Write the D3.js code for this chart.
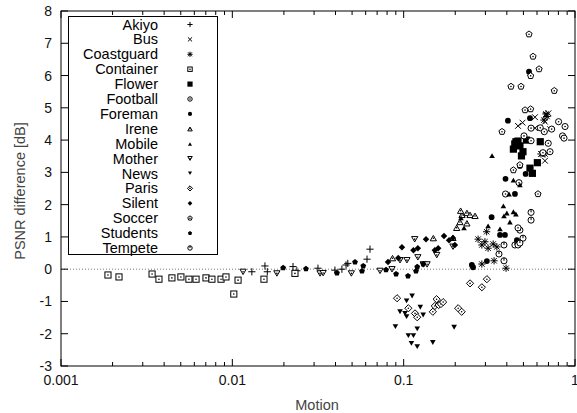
<!DOCTYPE html>
<html><head><meta charset="utf-8">
<script src="https://cdn.jsdelivr.net/npm/d3@7"></script>
<style>body{margin:0;background:#fff}svg{display:block}text{font-family:"Liberation Sans",Arial,sans-serif}</style>
</head><body><svg id="c" width="577" height="413"></svg>
<script>
const names = ["Akiyo","Bus","Coastguard","Container","Flower","Football","Foreman","Irene","Mobile","Mother","News","Paris","Silent","Soccer","Students","Tempete"];
const shapes = ["plus","cross","star","squareDot","squareFill","circleDot","circleFill","triUpDot","triUpFill","triDownDot","triDownFill","diamondDot","diamondFill","pentDot","pentFill","power"];
const xTicks = [0.001,0.01,0.1,1];
const yTicks = [-3,-2,-1,0,1,2,3,4,5,6,7,8];

const akiyo = [[0.0130,-0.08],[0.0155,0.10],[0.0160,-0.08],[0.0226,0.08],[0.0238,-0.05],[0.0316,0.03],[0.0397,-0.03],[0.0436,0.0],[0.0461,0.13],[0.0472,0.18],[0.0611,0.31],[0.0636,0.62]];
const bus = [[0.465,4.44],[0.494,4.54],[0.584,4.71],[0.668,4.57],[0.675,4.78],[0.70,4.83],[0.639,3.57],[0.668,3.36],[0.584,4.37],[0.715,4.34]];
const coastguard = [[0.286,0.16],[0.337,0.26],[0.396,0.03],[0.305,1.16],[0.272,0.93],[0.286,0.75],[0.298,0.85],[0.311,0.65],[0.333,0.78],[0.350,0.69],[0.687,4.73],[0.659,4.62],[0.668,3.57],[0.633,3.57],[0.677,4.81]];
const container = [[0.00188,-0.18],[0.00218,-0.24],[0.0034,-0.15],[0.00373,-0.31],[0.00444,-0.27],[0.00501,-0.24],[0.00558,-0.31],[0.00614,-0.31],[0.00702,-0.27],[0.0076,-0.31],[0.00859,-0.31],[0.00918,-0.24],[0.0102,-0.77],[0.0108,-0.34],[0.0153,-0.31],[0.0232,-0.13]];
const flower = [[0.452,3.95],[0.437,3.72],[0.477,3.82],[0.497,3.64],[0.487,3.51],[0.521,4.00],[0.627,3.95],[0.603,3.30],[0.546,3.13],[0.564,2.97],[0.465,3.97],[0.445,3.88]];
const football = [[0.554,4.37],[0.627,4.38],[0.662,4.26],[0.731,4.34],[0.802,4.57],[0.875,4.42],[0.846,4.13],[0.863,4.06],[0.698,3.90],[0.715,3.64],[0.65,3.61],[0.504,4.13],[0.554,3.98],[0.471,2.68],[0.393,2.33],[0.477,1.21],[0.465,1.28]];
const foreman = [[0.393,2.80],[0.477,3.20],[0.515,2.95],[0.446,2.33],[0.539,6.12],[0.406,4.60],[0.546,4.68],[0.326,1.61],[0.250,0.13],[0.254,0.06],[0.306,0.25],[0.39,1.06],[0.365,1.06],[0.458,0.90]];
const irene = [[0.0861,0.34],[0.149,0.96],[0.204,1.28],[0.213,1.46],[0.219,1.68],[0.234,1.74],[0.215,1.81],[0.244,1.68],[0.261,1.65],[0.234,1.42],[0.194,0.97]];
const mobile = [[0.216,1.59],[0.225,1.28],[0.328,3.52],[0.385,1.65],[0.40,1.74],[0.417,1.46],[0.437,1.78],[0.382,1.96],[0.437,2.76],[0.477,2.61],[0.412,2.33],[0.311,1.34],[0.365,1.25],[0.452,1.71]];
const mother = [[0.01155,-0.08],[0.0182,-0.13],[0.0325,-0.13],[0.0339,-0.12],[0.0495,-0.13],[0.0728,-0.05],[0.0855,0.0],[0.0952,0.28],[0.1045,0.28],[0.116,0.93],[0.121,0.37],[0.130,0.15],[0.137,0.15],[0.156,0.44],[0.194,0.70]];
const news = [[0.112,-0.83],[0.104,-0.98],[0.0952,-1.32],[0.1018,-1.37],[0.104,-1.47],[0.125,-1.18],[0.130,-1.42],[0.0895,-1.78],[0.120,-1.85],[0.1065,-2.06],[0.114,-2.06],[0.111,-2.30],[0.120,-2.40],[0.148,-2.27],[0.197,-1.80]];
const paris = [[0.0915,-0.90],[0.1065,-1.21],[0.1165,-1.37],[0.120,-1.49],[0.1557,-0.93],[0.152,-1.14],[0.148,-1.32],[0.16,-1.11],[0.165,-1.08],[0.17,-1.02],[0.208,-1.21],[0.218,-1.32],[0.244,-0.44],[0.286,-0.56],[0.306,-0.31]];
const silent = [[0.0977,0.68],[0.114,0.59],[0.121,0.65],[0.135,0.93],[0.152,0.59],[0.159,0.65],[0.172,1.03],[0.184,0.90],[0.194,0.97],[0.199,0.75],[0.081,0.22],[0.093,0.35]];
const soccer = [[0.539,7.28],[0.569,6.59],[0.617,6.20],[0.423,5.66],[0.484,5.66],[0.757,5.53],[0.551,5.99],[0.511,4.93],[0.551,4.96],[0.375,4.26],[0.608,2.33],[0.437,3.07],[0.477,3.23]];
const students = [[0.0198,0.04],[0.0269,0.01],[0.0408,-0.12],[0.052,0.22],[0.0571,-0.06],[0.0581,0.10],[0.0789,-0.02],[0.0903,-0.15],[0.106,-0.21],[0.118,-0.06],[0.120,0.07],[0.130,0.16]];
const tempete = [[0.385,0.26],[0.360,0.47],[0.385,0.75],[0.446,0.75],[0.497,0.96],[0.554,1.76],[0.554,1.52],[0.465,0.75],[0.477,0.81]];

const seriesData = [akiyo,bus,coastguard,container,flower,football,foreman,irene,mobile,mother,news,paris,silent,soccer,students,tempete];

const W=577,H=413, L=61, R=575, T=11, B=366;
const svg = d3.select("#c");
const x = d3.scaleLog().domain([0.001,1]).range([L,R]);
const y = d3.scaleLinear().domain([-3,8]).range([B,T]);

function poly(n, r, rot){
  const p=[];
  for(let i=0;i<n;i++){const a=rot+2*Math.PI*i/n;p.push([r*Math.cos(a),r*Math.sin(a)]);}
  return "M"+p.map(q=>q[0].toFixed(2)+","+q[1].toFixed(2)).join("L")+"Z";
}
function drawSymbol(g, shape, s){
  const sw=1;
  const dot = ()=>g.append("circle").attr("r",0.8).attr("fill","#000");
  switch(shape){
    case "plus": g.append("path").attr("d",`M${-s},0H${s}M0,${-s}V${s}`).attr("stroke","#000").attr("stroke-width",sw); break;
    case "cross": {const c=s*0.8; g.append("path").attr("d",`M${-c},${-c}L${c},${c}M${-c},${c}L${c},${-c}`).attr("stroke","#000").attr("stroke-width",sw); break;}
    case "star": {const c=s*0.75; g.append("path").attr("d",`M${-s},0H${s}M0,${-s}V${s}M${-c},${-c}L${c},${c}M${-c},${c}L${c},${-c}`).attr("stroke","#000").attr("stroke-width",sw); break;}
    case "squareDot": {const c=s*0.85; g.append("rect").attr("x",-c).attr("y",-c).attr("width",2*c).attr("height",2*c).attr("fill","#fff").attr("stroke","#000").attr("stroke-width",sw); dot(); break;}
    case "squareFill": {const c=s; g.append("rect").attr("x",-c).attr("y",-c).attr("width",2*c).attr("height",2*c).attr("fill","#000"); break;}
    case "circleDot": g.append("circle").attr("r",s*0.85).attr("fill","#fff").attr("stroke","#000").attr("stroke-width",sw); dot(); break;
    case "circleFill": g.append("circle").attr("r",s*0.8).attr("fill","#000"); break;
    case "triUpDot": g.append("path").attr("d",poly(3,s,-Math.PI/2)).attr("transform","translate(0,0.8)").attr("fill","#fff").attr("stroke","#000").attr("stroke-width",sw); dot(); break;
    case "triUpFill": g.append("path").attr("d",poly(3,s*0.9,-Math.PI/2)).attr("transform","translate(0,0.8)").attr("fill","#000"); break;
    case "triDownDot": g.append("path").attr("d",poly(3,s,Math.PI/2)).attr("transform","translate(0,-0.8)").attr("fill","#fff").attr("stroke","#000").attr("stroke-width",sw); dot(); break;
    case "triDownFill": g.append("path").attr("d",poly(3,s*0.9,Math.PI/2)).attr("transform","translate(0,-0.8)").attr("fill","#000"); break;
    case "diamondDot": g.append("path").attr("d",poly(4,s,0)).attr("fill","#fff").attr("stroke","#000").attr("stroke-width",sw); dot(); break;
    case "diamondFill": g.append("path").attr("d",poly(4,s*0.9,0)).attr("fill","#000"); break;
    case "pentDot": g.append("path").attr("d",poly(5,s*0.9,-Math.PI/2)).attr("fill","#fff").attr("stroke","#000").attr("stroke-width",sw); dot(); break;
    case "pentFill": g.append("path").attr("d",poly(5,s*0.85,-Math.PI/2)).attr("fill","#000"); break;
    case "power": g.append("circle").attr("r",s*0.85).attr("fill","#fff").attr("stroke","#000").attr("stroke-width",sw); g.append("path").attr("d",`M0,${-s*0.85}V0`).attr("stroke","#000").attr("stroke-width",sw); break;
  }
}

// zero line
svg.append("line").attr("x1",L).attr("x2",R).attr("y1",y(0)).attr("y2",y(0))
  .attr("stroke","#777").attr("stroke-width",1).attr("stroke-dasharray","1,2");

// points
const pts = svg.append("g");
seriesData.forEach((arr,i)=>{
  pts.selectAll(null).data(arr).enter().append("g")
    .attr("transform",d=>`translate(${x(d[0])},${y(d[1])})`)
    .each(function(){ drawSymbol(d3.select(this), shapes[i], 3.6); });
});

// axes (inward ticks, gnuplot style)
const minor = [];
for(let dec=0.001; dec<1; dec*=10){ for(let k=2;k<=9;k++) minor.push(dec*k); }
const ax = svg.append("g").attr("stroke","#000").attr("stroke-width",1);
xTicks.forEach(v=>{
  ax.append("line").attr("x1",x(v)).attr("x2",x(v)).attr("y1",B).attr("y2",B-7);
  ax.append("line").attr("x1",x(v)).attr("x2",x(v)).attr("y1",T).attr("y2",T+7);
});
minor.forEach(v=>{
  ax.append("line").attr("x1",x(v)).attr("x2",x(v)).attr("y1",B).attr("y2",B-4);
  ax.append("line").attr("x1",x(v)).attr("x2",x(v)).attr("y1",T).attr("y2",T+4);
});
yTicks.forEach(v=>{
  ax.append("line").attr("x1",L).attr("x2",L+7).attr("y1",y(v)).attr("y2",y(v));
  ax.append("line").attr("x1",R).attr("x2",R-7).attr("y1",y(v)).attr("y2",y(v));
});
svg.append("rect").attr("x",L).attr("y",T).attr("width",R-L).attr("height",B-T)
  .attr("fill","none").attr("stroke","#000").attr("stroke-width",1);

// tick labels
svg.append("g").selectAll("text").data(yTicks).enter().append("text")
  .attr("x",L-9).attr("y",d=>y(d)+5).attr("text-anchor","end").attr("font-size",14).attr("fill","#111").text(d=>d);
svg.append("g").selectAll("text").data(xTicks).enter().append("text")
  .attr("x",d=>x(d)).attr("y",B+19).attr("text-anchor","middle").attr("font-size",14).attr("fill","#111").text(d=>d3.format("")(d));

svg.append("text").attr("x",317).attr("y",410).attr("text-anchor","middle").attr("font-size",14.5).attr("fill","#444").text("Motion");
svg.append("text").attr("transform",`translate(25,191) rotate(-90)`).attr("text-anchor","middle").attr("font-size",14.5).attr("fill","#444").text("PSNR difference [dB]");

// legend
const lg = svg.append("g");
lg.append("rect").attr("x",68.5).attr("y",16.5).attr("width",149).attr("height",238).attr("fill","#fff").attr("stroke","#000").attr("stroke-width",1);
names.forEach((n,i)=>{
  const yy = 24.5 + i*14.9;
  lg.append("text").attr("x",158).attr("y",yy+5).attr("text-anchor","end").attr("font-size",14.5).attr("fill","#000").text(n);
  const g = lg.append("g").attr("transform",`translate(190,${yy})`);
  drawSymbol(g, shapes[i], 2.6);
});
</script></body></html>
